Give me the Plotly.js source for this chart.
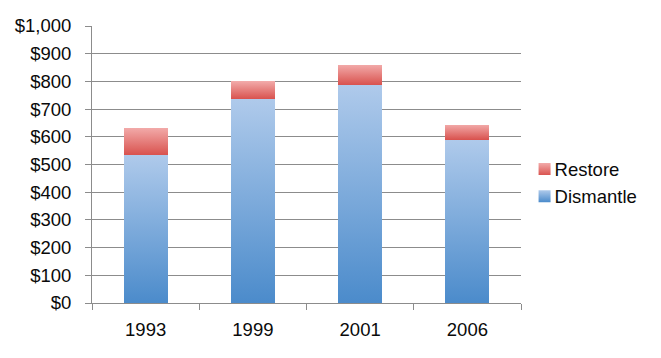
<!DOCTYPE html>
<html>
<head>
<meta charset="utf-8">
<script src="https://cdn.plot.ly/plotly-3.0.1.min.js"></script>
<style>html,body{margin:0;padding:0;background:#fff;}#chart{width:661px;height:358px;}</style>
</head>
<body>
<div id="chart"></div>
<script>
var years = ['1993', '1999', '2001', '2006'];
var dismantle = [535, 737, 788, 590];
var restore = [97, 63, 72, 54];
var yTickVals = [0, 100, 200, 300, 400, 500, 600, 700, 800, 900, 1000];
var yTickText = ['$0', '$100', '$200', '$300', '$400', '$500', '$600', '$700', '$800', '$900', '$1,000'];

var traces = [
  {type: 'bar', name: 'Dismantle', x: years, y: dismantle, marker: {color: '#7aa8dc', line: {width: 0}}},
  {type: 'bar', name: 'Restore', x: years, y: restore, marker: {color: '#e57b7a', line: {width: 0}}}
];

var layout = {
  width: 661, height: 358,
  margin: {l: 92, r: 140, t: 26, b: 55},
  barmode: 'stack',
  bargap: 0.59,
  paper_bgcolor: '#fff', plot_bgcolor: '#fff',
  font: {family: 'Liberation Sans, Arial, sans-serif', size: 18.5, color: '#0a0a0a'},
  showlegend: true,
  legend: {x: 0.985, y: 0.433, xanchor: 'left', yanchor: 'middle', traceorder: 'reversed',
           bgcolor: 'rgba(0,0,0,0)',
           font: {size: 18.5, color: '#0a0a0a'}, itemwidth: 30, tracegroupgap: 0},
  xaxis: {type: 'category', showline: true, linecolor: '#8c8c8c', linewidth: 1,
          ticks: 'outside', ticklen: 6, tickcolor: '#8c8c8c', tickson: 'boundaries',
          showgrid: false, ticklabelstandoff: 10},
  yaxis: {range: [0, 1000], tickvals: yTickVals, ticktext: yTickText,
          showline: true, linecolor: '#8c8c8c', linewidth: 1,
          ticks: 'outside', ticklen: 6, tickcolor: '#8c8c8c',
          showgrid: true, gridcolor: '#8c8c8c', gridwidth: 1, zeroline: false,
          ticklabelstandoff: 10}
};

Plotly.newPlot('chart', traces, layout, {displayModeBar: false, staticPlot: true}).then(function (gd) {
  var svg = gd.querySelector('svg.main-svg');
  var defs = svg.querySelector('defs');
  var ns = 'http://www.w3.org/2000/svg';
  function grad(id, top, bottom) {
    var g = document.createElementNS(ns, 'linearGradient');
    g.setAttribute('id', id);
    g.setAttribute('x1', '0'); g.setAttribute('y1', '0');
    g.setAttribute('x2', '0'); g.setAttribute('y2', '1');
    [[0, top], [1, bottom]].forEach(function (s) {
      var st = document.createElementNS(ns, 'stop');
      st.setAttribute('offset', s[0]);
      st.setAttribute('stop-color', s[1]);
      g.appendChild(st);
    });
    defs.appendChild(g);
  }
  grad('gradD', '#afcaeb', '#4b8bcb');
  grad('gradR', '#f2aaa9', '#d9534f');
  var barTraces = gd.querySelectorAll('.barlayer .trace');
  var ids = ['gradD', 'gradR'];
  barTraces.forEach(function (t, i) {
    t.querySelectorAll('path').forEach(function (p) {
      p.style.fill = 'url(#' + ids[i] + ')';
    });
  });
  var legendItems = gd.querySelectorAll('.legend .traces');
  legendItems.forEach(function (t) {
    var name = t.querySelector('text').textContent;
    var id = name === 'Restore' ? 'gradR' : 'gradD';
    var pts = t.querySelector('.legendpoints');
    if (pts) { pts.setAttribute('transform', 'translate(10,0)'); }
    t.querySelectorAll('.legendpoints path').forEach(function (p) { p.style.fill = 'url(#' + id + ')'; });
  });
});
</script>
</body>
</html>
